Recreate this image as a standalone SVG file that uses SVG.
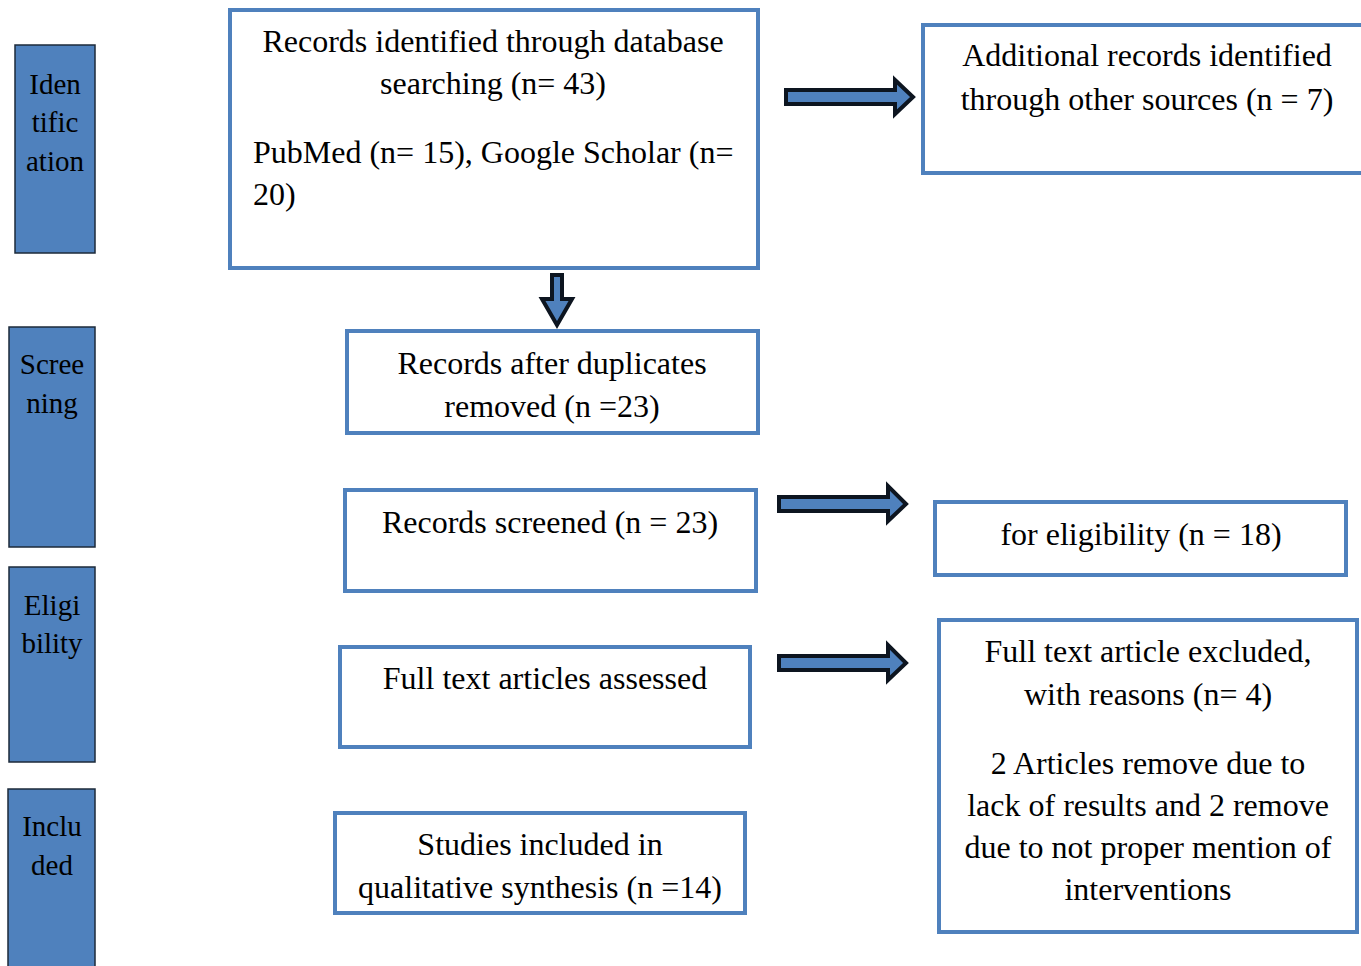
<svg xmlns="http://www.w3.org/2000/svg" width="1361" height="966" viewBox="0 0 1361 966">
<style>
.box{fill:#fff;stroke:#4f81bd;stroke-width:4}
.side{fill:#4f81bd;stroke:#1c2a3a;stroke-width:1.5}
.t{font-family:"Liberation Serif","Times New Roman",serif;font-size:32px;fill:#000}
.s{font-family:"Liberation Serif","Times New Roman",serif;font-size:29px;fill:#000;text-anchor:middle}
.c{text-anchor:middle}
.arr{fill:#4f81bd;stroke:#0d1520;stroke-width:4;stroke-linejoin:miter}
</style>
<rect width="1361" height="966" fill="#fff"/>
<g id="side-identification"><rect class="side" x="15" y="45" width="80" height="208"/>
<text class="s" x="55" y="94">Iden</text><text class="s" x="55" y="132">tific</text><text class="s" x="55" y="171">ation</text></g>
<g id="side-screening"><rect class="side" x="9" y="327" width="86" height="220"/>
<text class="s" x="52" y="374">Scree</text><text class="s" x="52" y="413">ning</text></g>
<g id="side-eligibility"><rect class="side" x="9" y="567" width="86" height="195"/>
<text class="s" x="52" y="615">Eligi</text><text class="s" x="52" y="653">bility</text></g>
<g id="side-included"><rect class="side" x="8" y="789" width="87" height="190"/>
<text class="s" x="52" y="836">Inclu</text><text class="s" x="52" y="875">ded</text></g>

<g id="n-identified"><rect class="box" x="230" y="10" width="528" height="258"/>
<text class="t c" x="493" y="52">Records identified through database</text>
<text class="t c" x="493" y="94">searching (n= 43)</text>
<text class="t" x="253" y="163">PubMed (n= 15), Google Scholar (n=</text>
<text class="t" x="253" y="205">20)</text></g>
<g id="n-additional"><rect class="box" x="923" y="25" width="450" height="148"/>
<text class="t c" x="1147" y="66">Additional records identified</text>
<text class="t c" x="1147" y="110">through other sources (n = 7)</text></g>
<g id="n-duplicates"><rect class="box" x="347" y="331" width="411" height="102"/>
<text class="t c" x="552" y="374">Records after duplicates</text>
<text class="t c" x="552" y="417">removed (n =23)</text></g>
<g id="n-screened"><rect class="box" x="345" y="490" width="411" height="101"/>
<text class="t c" x="550" y="533">Records screened (n = 23)</text></g>
<g id="n-eligibility"><rect class="box" x="935" y="502" width="411" height="73"/>
<text class="t c" x="1141" y="545">for eligibility (n = 18)</text></g>
<g id="n-assessed"><rect class="box" x="340" y="647" width="410" height="100"/>
<text class="t c" x="545" y="689">Full text articles assessed</text></g>
<g id="n-excluded"><rect class="box" x="939" y="620" width="418" height="312"/>
<text class="t c" x="1148" y="662">Full text article excluded,</text>
<text class="t c" x="1148" y="705">with reasons (n= 4)</text>
<text class="t c" x="1148" y="774">2 Articles remove due to</text>
<text class="t c" x="1148" y="816">lack of results and 2 remove</text>
<text class="t c" x="1148" y="858">due to not proper mention of</text>
<text class="t c" x="1148" y="900">interventions</text></g>
<g id="n-included"><rect class="box" x="335" y="813" width="410" height="100"/>
<text class="t c" x="540" y="855">Studies included in</text>
<text class="t c" x="540" y="898">qualitative synthesis (n =14)</text></g>

<g id="connectors">
<path class="arr" d="M786 90 H895 V80 L913 97 L895 114 V104 H786 Z"/>
<path class="arr" d="M552 275 H562 V299 H572 L557 325 L542 299 H552 Z"/>
<path class="arr" d="M779 497 H888 V486 L906 504 L888 521 V511 H779 Z"/>
<path class="arr" d="M779 656 H888 V645 L906 663 L888 680 V670 H779 Z"/>
</g>
</svg>
